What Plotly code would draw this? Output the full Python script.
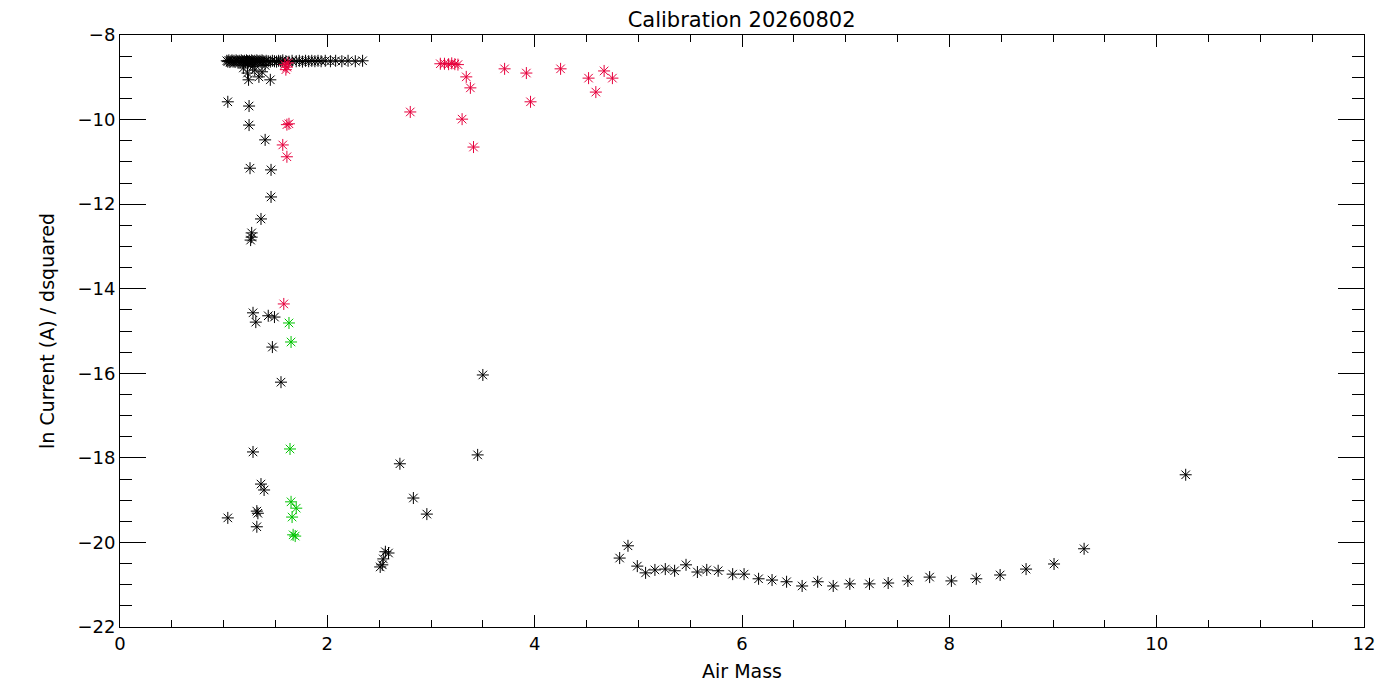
import plotly.graph_objects as go

# Air mass / ln current readings
black_air_mass = [
    # dense run along the top
    1.03, 1.04, 1.05, 1.06, 1.07, 1.08, 1.09, 1.10, 1.11, 1.12, 1.13, 1.14,
    1.15, 1.16, 1.17, 1.18, 1.19, 1.20, 1.21, 1.22, 1.23, 1.24, 1.25, 1.26,
    1.27, 1.28, 1.29, 1.30, 1.31, 1.32, 1.33, 1.34, 1.35, 1.36, 1.37, 1.38,
    1.39, 1.41, 1.43, 1.45, 1.47, 1.49, 1.51, 1.53, 1.55, 1.57, 1.60, 1.63,
    1.66, 1.70, 1.73, 1.76, 1.79, 1.82, 1.85, 1.88, 1.91, 1.94, 1.98, 2.03,
    2.08, 2.14, 2.20, 2.27, 2.34,
    # just below the run
    1.19, 1.23, 1.30, 1.37, 1.24, 1.34, 1.45, 1.28, 1.40,
    # scattered near air mass 1-1.6
    1.04, 1.245, 1.245, 1.40, 1.254, 1.457, 1.457, 1.36, 1.27, 1.27, 1.26,
    1.283, 1.31, 1.43, 1.49, 1.47, 1.553, 1.283, 1.36, 1.39, 1.32, 1.33,
    1.04, 1.32,
    # middle
    3.50, 3.45, 2.70, 2.83, 2.96, 2.56, 2.59, 2.54, 2.53, 2.51,
    # long tail
    4.82, 4.90, 4.99, 5.07, 5.16, 5.26, 5.35, 5.46, 5.57, 5.66, 5.77, 5.91,
    6.02, 6.16, 6.29, 6.43, 6.58, 6.73, 6.88, 7.04, 7.23, 7.41, 7.60, 7.81,
    8.02, 8.26, 8.49, 8.74, 9.01, 9.30, 10.28,
]
black_ln_current = [
    -8.61, -8.63, -8.60, -8.64, -8.62, -8.60, -8.63, -8.61, -8.64, -8.60, -8.62, -8.63,
    -8.61, -8.64, -8.60, -8.62, -8.63, -8.61, -8.64, -8.60, -8.62, -8.63, -8.61, -8.64,
    -8.60, -8.62, -8.63, -8.61, -8.64, -8.60, -8.62, -8.63, -8.61, -8.64, -8.60, -8.62,
    -8.63, -8.61, -8.62, -8.63, -8.61, -8.62, -8.63, -8.61, -8.62, -8.60, -8.62, -8.63,
    -8.61, -8.62, -8.61, -8.63, -8.61, -8.62, -8.61, -8.62, -8.61, -8.62, -8.61, -8.62,
    -8.61, -8.62, -8.61, -8.62, -8.61,
    -8.78, -8.90, -8.83, -8.87, -9.06, -8.99, -9.06, -8.74, -8.72,
    -9.58, -9.68, -10.13, -10.48, -11.15, -11.19, -11.83, -12.35, -12.68, -12.78, -12.85,
    -14.57, -14.79, -14.64, -14.67, -15.38, -16.21, -17.86, -18.62, -18.76, -19.26, -19.31,
    -19.42, -19.63,
    -16.04, -17.93, -18.14, -18.95, -19.33, -20.22, -20.25, -20.39, -20.53, -20.58,
    -20.37, -20.08, -20.56, -20.72, -20.65, -20.63, -20.67, -20.53, -20.70, -20.65, -20.67, -20.75,
    -20.75, -20.86, -20.89, -20.93, -21.03, -20.93, -21.03, -20.98, -20.98, -20.96, -20.91, -20.82,
    -20.91, -20.86, -20.77, -20.63, -20.51, -20.15, -18.40,
]

red_air_mass = [
    1.59, 1.61, 1.60, 1.62, 1.61, 1.63, 1.57, 1.61, 1.58,
    2.80, 3.09, 3.13, 3.17, 3.20, 3.23, 3.26, 3.34, 3.38, 3.30, 3.41,
    3.71, 3.92, 3.96, 4.25, 4.52, 4.67, 4.75, 4.59,
]
red_ln_current = [
    -8.70, -8.76, -8.82, -8.66, -10.12, -10.10, -10.60, -10.88, -14.36,
    -9.82, -8.68, -8.68, -8.69, -8.67, -8.69, -8.70, -8.99, -9.25, -9.99, -10.65,
    -8.80, -8.90, -9.58, -8.80, -9.02, -8.85, -9.02, -9.35,
]

green_air_mass = [1.63, 1.65, 1.64, 1.65, 1.70, 1.66, 1.67, 1.69]
green_ln_current = [-14.81, -15.26, -17.79, -19.04, -19.19, -19.40, -19.82, -19.85]

x_ticks = [0, 2, 4, 6, 8, 10, 12]
y_ticks = [-8, -10, -12, -14, -16, -18, -20, -22]

font = "DejaVu Sans"

fig = go.Figure()

for xs, ys, color in [
    (black_air_mass, black_ln_current, "black"),
    (red_air_mass, red_ln_current, "#e6003c"),
    (green_air_mass, green_ln_current, "#00c400"),
]:
    fig.add_trace(go.Scatter(
        x=xs, y=ys, mode="markers",
        marker=dict(symbol="asterisk-open", size=10, color=color,
                    line=dict(color=color, width=1)),
        showlegend=False,
    ))

axis_common = dict(
    showline=True, linecolor="black", linewidth=1, mirror="ticks",
    ticks="inside", tickcolor="black", tickwidth=1,
    showgrid=False, zeroline=False,
    tickfont=dict(family=font, size=18, color="black"),
)

fig.update_xaxes(
    range=[0, 12], tickvals=x_ticks, ticklen=12,
    minor=dict(dtick=0.5, ticks="inside", ticklen=7, tickcolor="black", showgrid=False),
    title=dict(text="Air Mass", font=dict(family=font, size=19, color="black"), standoff=12),
    **axis_common,
)
fig.update_yaxes(
    range=[-22, -8], tickvals=y_ticks, ticklen=26,
    minor=dict(dtick=0.5, ticks="inside", ticklen=12, tickcolor="black", showgrid=False),
    title=dict(text="ln Current (A) / dsquared", font=dict(family=font, size=19, color="black"),
               standoff=17),
    **axis_common,
)

# margins pulled in by the page's 8px body offset so the frame lines up
fig.update_layout(
    width=1400, height=700,
    margin=dict(l=112, r=44, t=27, b=81),
    paper_bgcolor="white", plot_bgcolor="white",
    title=dict(text="Calibration 20260802", x=0.524, xanchor="center",
               y=0.983, yanchor="middle", yref="container",
               font=dict(family=font, size=21, color="black")),
)

fig.write_html("out.html")
